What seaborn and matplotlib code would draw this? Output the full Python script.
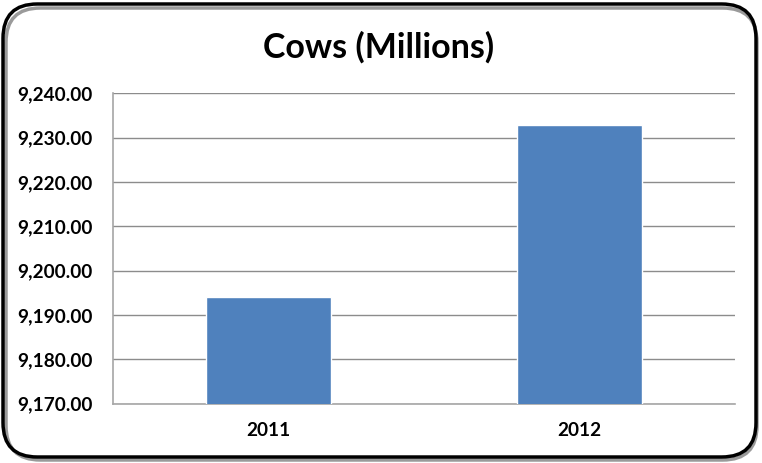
import matplotlib
matplotlib.use('Agg')
import matplotlib.pyplot as plt
import seaborn as sns
import pandas as pd
from matplotlib.patches import FancyBboxPatch
from matplotlib.ticker import FuncFormatter, MultipleLocator

# data
years = ['2011', '2012']
cows = [9194.1, 9232.9]
y_ticks_min, y_ticks_max, y_step = 9170, 9240, 10

df = pd.DataFrame({'year': years, 'cows': cows})

sns.set_style('white')
plt.rcParams['font.family'] = ['Lato', 'DejaVu Sans']
plt.rcParams['text.color'] = 'black'
plt.rcParams['xtick.labelcolor'] = 'black'
plt.rcParams['ytick.labelcolor'] = 'black'

fig = plt.figure(figsize=(7.62, 4.63), dpi=100)
ax = fig.add_axes([0.1483, 0.1285, 0.8163, 0.670])

sns.barplot(data=df, x='year', y='cows', color='#4F81BD', saturation=1,
            width=0.4, ax=ax, zorder=3)

ax.set_ylim(y_ticks_min, y_ticks_max)
ax.set_xlim(-0.5, 1.5)
ax.yaxis.set_major_locator(MultipleLocator(y_step))
ax.yaxis.set_major_formatter(FuncFormatter(lambda v, p: f'{v:,.2f}'))
ax.grid(axis='y', color='#8C8C8C', linewidth=1, zorder=0)
ax.set_xlabel('')
ax.set_ylabel('')

for s in ['top', 'right']:
    ax.spines[s].set_visible(False)
for s in ['left', 'bottom']:
    ax.spines[s].set_color('#A6A6A6')
    ax.spines[s].set_linewidth(1.2)

# category-boundary ticks on x, like Excel
ax.set_xticks([0, 1])
ax.set_xticks([-0.5, 0.5, 1.5], minor=True)
ax.tick_params(axis='x', which='major', length=0, pad=13)
ax.tick_params(axis='x', which='minor', length=5, color='#A6A6A6', direction='out')
ax.tick_params(axis='y', length=5, color='#A6A6A6', direction='out', pad=10)
ax.tick_params(axis='both', which='major', labelsize=13.7)
for lab in ax.get_xticklabels() + ax.get_yticklabels():
    lab.set_fontweight('bold')

fig.text(0.497, 0.898, 'Cows (Millions)', ha='center', va='center',
         fontsize=24.5, fontweight='bold')

# rounded chart border with a little shadow
shadow = FancyBboxPatch((6 / 762, 3 / 463), 751 / 762, 452 / 463,
                        boxstyle='round,pad=0,rounding_size=0.045',
                        transform=fig.transFigure, facecolor='none',
                        edgecolor='#9A9A9A', linewidth=2.5, zorder=-2,
                        mutation_aspect=762 / 463)
fig.patches.append(shadow)
border = FancyBboxPatch((3 / 762, 6 / 463), 753 / 762, 453 / 463,
                        boxstyle='round,pad=0,rounding_size=0.045',
                        transform=fig.transFigure, facecolor='none',
                        edgecolor='black', linewidth=2.5, zorder=-1,
                        mutation_aspect=762 / 463)
fig.patches.append(border)

fig.savefig('out.png', dpi=100)
